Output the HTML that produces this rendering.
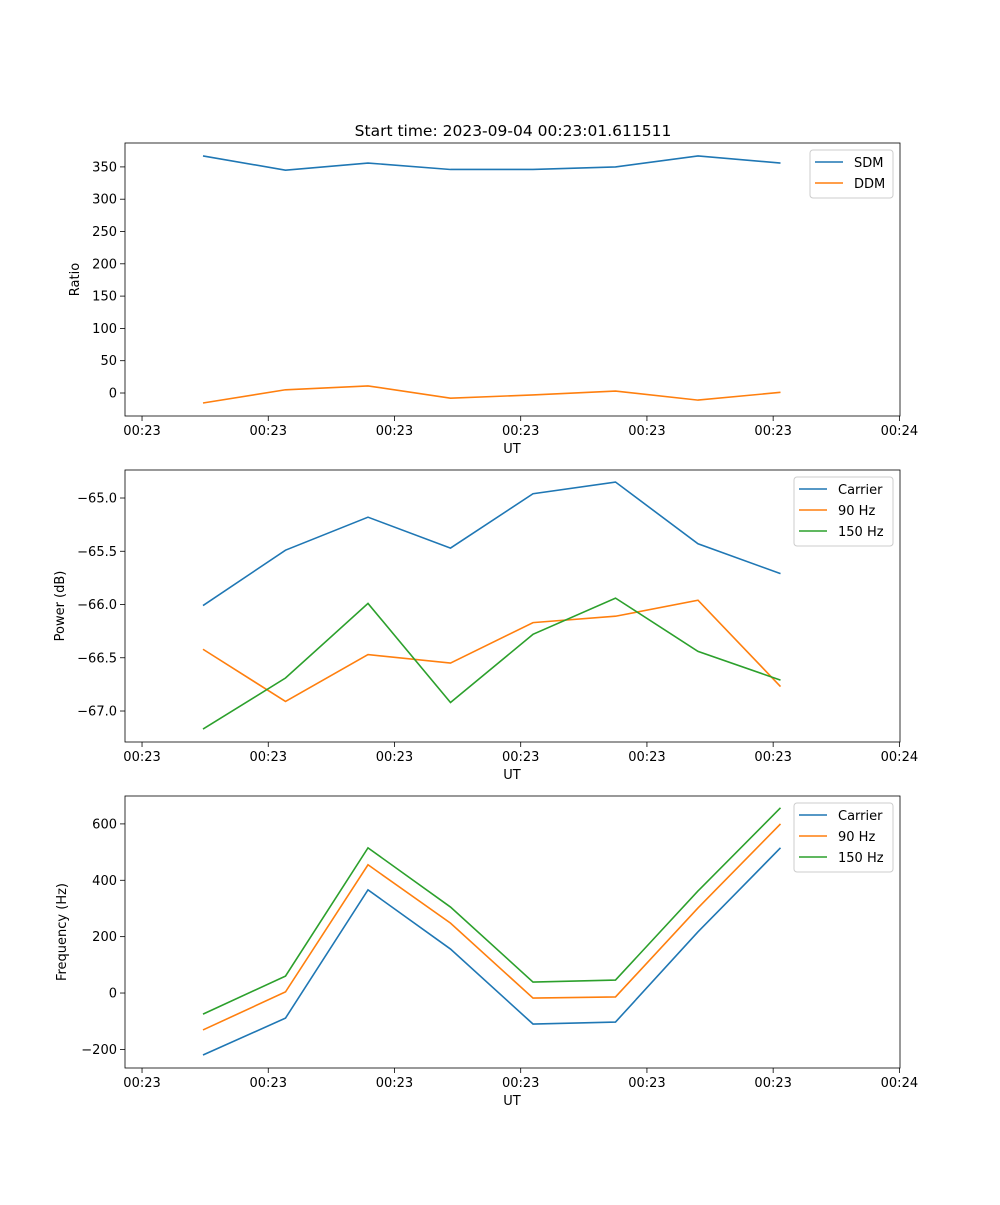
<!DOCTYPE html>
<html><head><meta charset="utf-8"><style>
body{margin:0;background:#fff;}
svg{font-family:"DejaVu Sans","Liberation Sans",sans-serif;}
</style></head><body>
<svg id="fig" width="1000" height="1200" xmlns="http://www.w3.org/2000/svg">
<rect width="1000" height="1200" fill="#fff"/>
<text x="513" y="136" font-size="15.5" text-anchor="middle">Start time: 2023-09-04 00:23:01.611511</text>
</svg>
<script>
const xIdx = [0,1,2,3,4,5,6,7];
const xTickPos = [-0.739,0.791,2.321,3.851,5.381,6.911,8.441];
const xTickLabels = ["00:23","00:23","00:23","00:23","00:23","00:23","00:24"];
const sdm = [367,345,356,346,346,350,367,356];
const ddm = [-15.5,5,11,-8,-3,3,-11,1];
const pwrCarrier = [-66.01,-65.49,-65.18,-65.47,-64.96,-64.85,-65.43,-65.71];
const pwr90 = [-66.42,-66.91,-66.47,-66.55,-66.17,-66.11,-65.96,-66.77];
const pwr150 = [-67.17,-66.69,-65.99,-66.92,-66.28,-65.94,-66.44,-66.71];
const frqCarrier = [-220,-89,366,156,-110,-103,217,515];
const frq90 = [-131,4,455,248,-18,-14,302,600];
const frq150 = [-75,60,515,305,39,46,362,657];
const ticks1 = [0,50,100,150,200,250,300,350];
const ticks1Labels = ["0","50","100","150","200","250","300","350"];
const ticks2 = [-67.0,-66.5,-66.0,-65.5,-65.0];
const ticks2Labels = ["−67.0","−66.5","−66.0","−65.5","−65.0"];
const ticks3 = [-200,0,200,400,600];
const ticks3Labels = ["−200","0","200","400","600"];

const NS="http://www.w3.org/2000/svg";
const svg=document.getElementById('fig');
function mk(tag,attrs,parent){const e=document.createElementNS(NS,tag);for(const k in attrs)e.setAttribute(k,attrs[k]);(parent||svg).appendChild(e);return e;}
const L=125,R=900;
const xs=v=>L+(203-L)+v*82.5;

function panel(top,bot,ymin,ymax,ticks,tickLabels,ylabel,ylabelX,series,legend,name){
  const g=mk('g',{});
  
  
  const ys=v=>bot-(v-ymin)/(ymax-ymin)*(bot-top);
  xTickPos.forEach((t,i)=>{
    const tk=mk('line',{x1:xs(t),x2:xs(t),y1:bot,y2:bot+5,stroke:'#000','stroke-width':0.8},g);
    
    
    const tx=mk('text',{x:xs(t),y:bot+19,'font-size':13,'text-anchor':'middle'},g);
    tx.textContent=xTickLabels[i];
    
    
  });
  ticks.forEach((t,i)=>{
    mk('line',{x1:L-5,x2:L,y1:ys(t),y2:ys(t),stroke:'#000','stroke-width':0.8},g);
    const tx=mk('text',{x:L-8,y:ys(t)+4.5,'font-size':13,'text-anchor':'end'},g);
    tx.textContent=tickLabels[i];
    
    
  });
  const xl=mk('text',{x:512,y:bot+37,'font-size':13,'text-anchor':'middle'},g);
  xl.textContent='UT';
  
  
  const yl=mk('text',{x:ylabelX,y:(top+bot)/2,'font-size':13,'text-anchor':'middle',transform:`rotate(-90 ${ylabelX} ${(top+bot)/2})`},g);
  yl.textContent=ylabel;
  
  
  series.forEach(s=>{
    const p=mk('polyline',{points:s.data.map((v,i)=>xs(xIdx[i])+','+ys(v)).join(' '),fill:'none',stroke:s.color,'stroke-width':1.6},g);
    
    
  });
  mk('rect',{x:L,y:top,width:R-L,height:bot-top,fill:'none',stroke:'#000','stroke-width':0.8},g);
  const lg=mk('g',{},g);
  
  
  mk('rect',{x:legend.x,y:top+7,width:R-7-legend.x,height:series.length*21+6,rx:3,fill:'#fff',stroke:'#ccc','stroke-width':1},lg);
  series.forEach((s,i)=>{
    const y=top+19+i*21;
    mk('line',{x1:legend.x+5,x2:legend.x+33,y1:y,y2:y,stroke:s.color,'stroke-width':1.6},lg);
    const t=mk('text',{x:legend.x+44,y:y+5,'font-size':13},lg);
    t.textContent=s.label;
    
    
  });
}
const C1='#1f77b4',C2='#ff7f0e',C3='#2ca02c';
panel(143,416,-35.6,387,ticks1,ticks1Labels,'Ratio',79,[{data:sdm,color:C1,label:'SDM'},{data:ddm,color:C2,label:'DDM'}],{x:810},'ratio-panel');
panel(470,742,-67.291,-64.737,ticks2,ticks2Labels,'Power (dB)',64,[{data:pwrCarrier,color:C1,label:'Carrier'},{data:pwr90,color:C2,label:'90 Hz'},{data:pwr150,color:C3,label:'150 Hz'}],{x:794},'power-panel');
panel(796,1068,-266,699,ticks3,ticks3Labels,'Frequency (Hz)',66,[{data:frqCarrier,color:C1,label:'Carrier'},{data:frq90,color:C2,label:'90 Hz'},{data:frq150,color:C3,label:'150 Hz'}],{x:794},'frequency-panel');
</script>
</body></html>
